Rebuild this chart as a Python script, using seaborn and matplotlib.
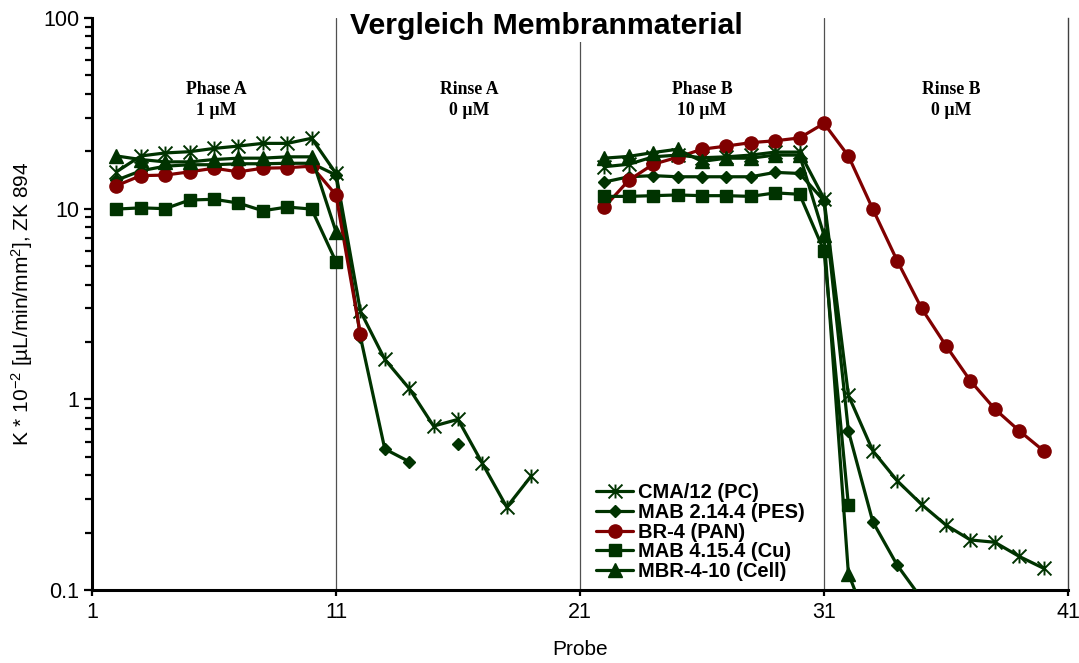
import numpy as np
import pandas as pd
import matplotlib
matplotlib.use("Agg")
import matplotlib.pyplot as plt
import seaborn as sns
from matplotlib.path import Path
from matplotlib.transforms import blended_transform_factory
from matplotlib.ticker import LogLocator, NullFormatter

nan = np.nan

# ---------------- data ----------------
probe = list(range(2, 41))  # Probe 2 .. 40

cma_pc = [15.6, 18.9, 19.6, 19.9, 20.7, 21.3, 22.0, 22.0, 23.4,   # 2-10
          15.3, 2.9, 1.62, 1.14, 0.724, 0.785, 0.461, 0.272, 0.396,  # 11-19
          nan, nan,                                                  # 20-21
          16.6, 17.1, 18.7, 19.1, 18.5, 18.7, 19.1, 19.8, 19.8,      # 22-30
          11.3, 1.05, 0.537, 0.374, 0.281, 0.219, 0.183, 0.178, 0.150, 0.130]  # 31-40

mab_pes = [14.1, 15.8, 16.7, 17.0, 17.0, 17.2, 17.2, 17.3, 17.3,
           15.0, 2.13, 0.549, 0.471, nan, 0.583, nan, nan, nan,
           nan, nan,
           13.8, 14.7, 14.9, 14.7, 14.7, 14.7, 14.7, 15.5, 15.3,
           11.0, 0.682, 0.228, 0.135, 0.09, nan, nan, nan, nan, nan]

br_pan = [13.2, 14.9, 15.0, 15.6, 16.3, 15.6, 16.3, 16.4, 16.7,
          11.8, 2.19, nan, nan, nan, nan, nan, nan, nan,
          nan, nan,
          10.2, 14.1, 17.1, 18.6, 20.5, 21.3, 22.2, 22.7, 23.5,
          28.0, 18.9, 9.95, 5.33, 3.00, 1.91, 1.25, 0.89, 0.684, 0.537]

mab_cu = [9.95, 10.1, 10.0, 11.1, 11.2, 10.7, 9.75, 10.2, 9.95,
          5.27, nan, nan, nan, nan, nan, nan, nan, nan,
          nan, nan,
          11.6, 11.6, 11.7, 11.8, 11.7, 11.7, 11.6, 12.1, 11.9,
          6.01, 0.279, nan, nan, nan, nan, nan, nan, nan, nan]

mbr_cell = [18.9, 18.1, 17.6, 17.6, 18.1, 18.4, 18.4, 18.7, 18.7,
            7.57, nan, nan, nan, nan, nan, nan, nan, nan,
            nan, nan,
            18.4, 18.8, 19.7, 20.5, 17.7, 18.4, 18.4, 19.1, 19.1,
            7.27, 0.122, 0.057, nan, nan, nan, nan, nan, nan, nan]

series_names = ["CMA/12 (PC)", "MAB 2.14.4 (PES)", "BR-4 (PAN)",
                "MAB 4.15.4 (Cu)", "MBR-4-10 (Cell)"]
series_values = [cma_pc, mab_pes, br_pan, mab_cu, mbr_cell]

phase_bounds = [11, 21, 31]
phase_labels = ["Phase A\n1 µM", "Rinse A\n0 µM", "Phase B\n10 µM", "Rinse B\n0 µM"]
phase_label_x = [6.1, 16.45, 26.0, 36.2]

x_ticks = [1, 11, 21, 31, 41]
y_ticks = [0.1, 1, 10, 100]
y_tick_labels = ["0.1", "1", "10", "100"]

title = "Vergleich Membranmaterial"
x_label = "Probe"
y_label = r"K * 10$^{-2}$ [µL/min/mm$^{2}$], ZK 894"

# ---------------- style ----------------
sns.set_style("ticks")
plt.rcParams["font.family"] = ["Liberation Sans", "DejaVu Sans"]
plt.rcParams["mathtext.fontset"] = "custom"
plt.rcParams["mathtext.rm"] = "Liberation Sans"
plt.rcParams["mathtext.it"] = "Liberation Sans:italic"
plt.rcParams["mathtext.bf"] = "Liberation Sans:bold"
plt.rcParams["mathtext.default"] = "regular"
for k in ["text.color", "axes.labelcolor", "xtick.color", "ytick.color"]:
    plt.rcParams[k] = "black"

green = "#003300"
red = "#800000"

star_path = Path(
    [(0, -1), (0, 1), (-1, -1), (1, 1), (-1, 1), (1, -1)],
    [Path.MOVETO, Path.LINETO, Path.MOVETO, Path.LINETO, Path.MOVETO, Path.LINETO],
)

styles = [
    dict(color=green, marker=star_path, markersize=10, markerfacecolor="none", markeredgewidth=1.4),
    dict(color=green, marker="D", markersize=6.5, markerfacecolor=green, markeredgewidth=1),
    dict(color=red, marker="o", markersize=9.5, markerfacecolor=red, markeredgewidth=1),
    dict(color=green, marker="s", markersize=9, markerfacecolor=green, markeredgewidth=1),
    dict(color=green, marker="^", markersize=10, markerfacecolor=green, markeredgewidth=1),
]

W, H = 1079, 663
fig = plt.figure(figsize=(W / 100, H / 100), dpi=100)
L, R, T, B = 92, 1068, 18, 590
ax = fig.add_axes([L / W, 1 - B / H, (R - L) / W, (B - T) / H])

for v in phase_bounds:
    ax.axvline(v, color="#505050", lw=0.9, zorder=1)

for i, (name, vals, st) in enumerate(zip(series_names, series_values, styles)):
    arr = np.array(vals, dtype=float)
    seg = np.cumsum(np.isnan(arr))
    d = pd.DataFrame({"Probe": probe, "K": arr, "seg": seg}).dropna()
    sns.lineplot(data=d, x="Probe", y="K", units="seg", estimator=None,
                 color=st["color"], marker=st["marker"], markersize=st["markersize"],
                 markerfacecolor=st["markerfacecolor"], markeredgecolor=st["color"],
                 markeredgewidth=st["markeredgewidth"], linewidth=2.3,
                 label=name, legend=False, ax=ax, zorder=3 + i)

ax.set_yscale("log")
ax.set_ylim(0.1, 100)
ax.set_xlim(1, 41)
ax.set_xticks(x_ticks)
ax.set_xticklabels([str(t) for t in x_ticks])
ax.set_yticks(y_ticks)
ax.set_yticklabels(y_tick_labels)
ax.yaxis.set_minor_locator(LogLocator(base=10, subs=np.arange(2, 10)))
ax.yaxis.set_minor_formatter(NullFormatter())

ax.tick_params(axis="y", which="major", direction="out", length=6, width=1.6, labelsize=15.5, pad=3)
ax.tick_params(axis="y", which="minor", direction="out", length=5, width=1.6)
ax.tick_params(axis="x", which="major", direction="out", length=4, width=1.6, labelsize=15.5, pad=5)

for s in ["left", "bottom"]:
    ax.spines[s].set_linewidth(2.2)
    ax.spines[s].set_color("black")
ax.spines["top"].set_visible(False)
ax.spines["right"].set_visible(True)
ax.spines["right"].set_linewidth(1.0)
ax.spines["right"].set_color("#404040")

ax.set_xlabel(x_label, fontsize=15)
ax.set_ylabel(y_label, fontsize=15)
ax.xaxis.set_label_coords(0.5, (B - 640) / (B - T))
ax.yaxis.set_label_coords((35 - L) / (R - L), 0.5)

trans = blended_transform_factory(ax.transData, ax.transAxes)
for lx, txt in zip(phase_label_x, phase_labels):
    ax.text(lx, (B - 100) / (B - T), txt, transform=trans, ha="center", va="center",
            fontsize=12.8, fontweight="bold", family=["Liberation Serif", "DejaVu Serif"],
            linespacing=1.35)

fig.text(546 / W, 1 - 26 / H, title, ha="center", va="center", fontsize=21.8, fontweight="bold",
         bbox=dict(facecolor="white", edgecolor="none", pad=1))

handles, labels = ax.get_legend_handles_labels()
uniq = {}
for h, l in zip(handles, labels):
    if l not in uniq:
        uniq[l] = h
leg = ax.legend(list(uniq.values()), list(uniq.keys()), loc="upper left",
                bbox_to_anchor=(596 / W, 1 - 483 / H), bbox_transform=fig.transFigure,
                frameon=False, prop=dict(weight="bold", size=14.5),
                handlelength=1.84, handletextpad=0.26, labelspacing=0.04,
                borderpad=0, borderaxespad=0)
leg.set_zorder(20)

fig.savefig("out.png", dpi=100)
